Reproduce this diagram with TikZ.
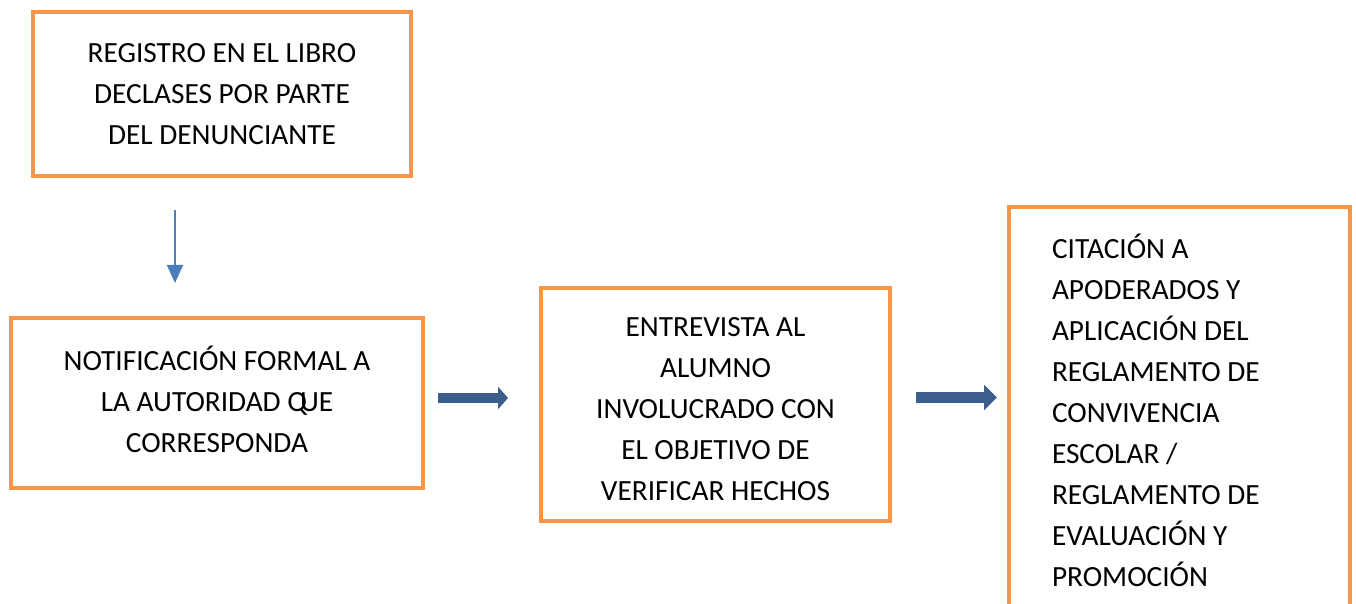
\documentclass[tikz,border=0pt]{standalone}
\usepackage{fontspec}
\setmainfont{Carlito}
\usetikzlibrary{arrows.meta}
\definecolor{boxorange}{HTML}{F79646}
\definecolor{thinblue}{HTML}{4A7EBB}
\definecolor{darkblue}{HTML}{3B5E8C}
\begin{document}
\begin{tikzpicture}[x=1pt,y=1pt,
  stepbox/.style={draw=boxorange, line width=4pt, inner sep=0pt, outer sep=0pt},
  steptext/.style={inner sep=0pt, outer sep=0pt, font=\fontsize{29.3}{41}\selectfont},
  thinarrow/.style={draw=thinblue, line width=2pt, -{Triangle[width=16pt,length=18pt]}},
  blockarrow/.style={draw=darkblue, line width=10pt, -{Triangle[width=22pt,length=10pt]}}]
\path[use as bounding box, clip] (0,0) rectangle (1356,604);
\node[stepbox, minimum width=378pt, minimum height=164pt] (b1) at (222,510) {};
\node[steptext, align=center] (t1) at (b1.center)
  {REGISTRO EN EL LIBRO\\DECLASES POR PARTE\\DEL DENUNCIANTE};
\node[stepbox, minimum width=412pt, minimum height=170pt] (b2) at (217,201) {};
\node[steptext, align=center] (t2) at ([yshift=4pt]b2.center)
  {NOTIFICACIÓN FORMAL A\\LA AUTORIDAD Q\kern-7pt UE\\CORRESPONDA};
\node[stepbox, minimum width=349pt, minimum height=233pt] (b3) at (715.5,199.5) {};
\node[steptext, align=center] (t3) at ([yshift=-5pt]b3.center)
  {ENTREVISTA AL\\ALUMNO\\INVOLUCRADO CON\\EL OBJETIVO DE\\VERIFICAR HECHOS};
\node[stepbox, minimum width=341pt, minimum height=450pt, anchor=north west] (b4) at (1009,397) {};
\node[steptext, align=left, anchor=north west] (t4) at (1052,370)
  {CITACIÓN A\\APODERADOS Y\\APLICACIÓN DEL\\REGLAMENTO DE\\CONVIVENCIA\\ESCOLAR /\\REGLAMENTO DE\\EVALUACIÓN Y\\PROMOCIÓN};
\draw[thinarrow, shorten <=34pt, shorten >=35pt] ([xshift=-47pt]b1.south) -- ([xshift=-42pt]b2.north);
\draw[blockarrow, shorten <=15pt, shorten >=33pt] ([yshift=5pt]b2.east) -- ([yshift=5pt]b2.east -| b3.west);
\draw[blockarrow, -{Triangle[width=25pt,length=13pt]}, line width=11pt, shorten <=26pt, shorten >=12pt] ([yshift=7pt]b3.east) -- ([yshift=7pt]b3.east -| b4.west);
\end{tikzpicture}
\end{document}
